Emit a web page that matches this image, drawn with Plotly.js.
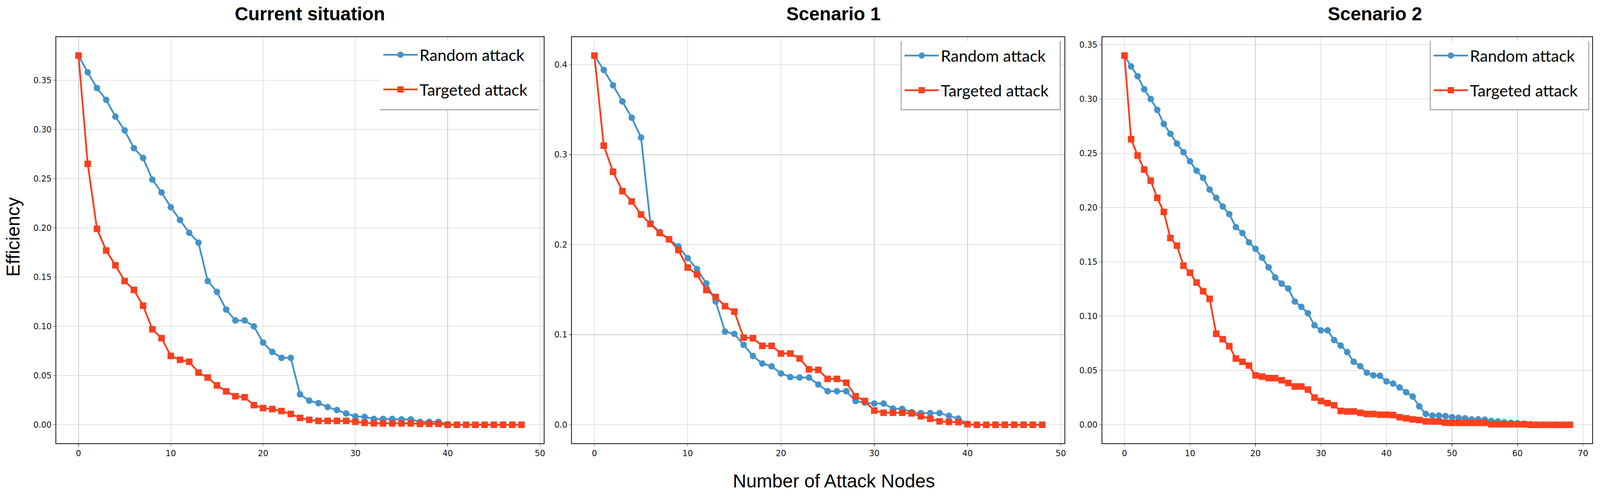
<!DOCTYPE html>
<html>
<head>
<meta charset="utf-8">
<title>Efficiency under attack</title>
<script src="https://cdn.plot.ly/plotly-3.0.1.min.js"></script>
<style>
  html, body { margin: 0; padding: 0; background: #fff; overflow: hidden; }
  #chart { width: 100vw; height: 100vh; }
</style>
</head>
<body>
<div id="chart"></div>
<script>
'use strict';

/* ============================================================
   DATA – efficiency after removing n nodes
   ============================================================ */
var panelTitles = ['Current situation', 'Scenario 1', 'Scenario 2'];
var seriesNames = ['Random attack', 'Targeted attack'];

var curRandom = [0.375, 0.358, 0.342, 0.330, 0.313, 0.299, 0.281, 0.271, 0.249, 0.236,
  0.221, 0.208, 0.195, 0.185, 0.146, 0.135, 0.117, 0.106, 0.106, 0.100,
  0.0835, 0.074, 0.068, 0.068, 0.031, 0.0245, 0.022, 0.018, 0.015, 0.0115,
  0.0085, 0.008, 0.006, 0.006, 0.006, 0.0055, 0.0055, 0.003, 0.003, 0.003,
  0.0006, 0, 0, 0, 0, 0, 0, 0, 0];
var curTargeted = [0.375, 0.265, 0.199, 0.177, 0.162, 0.146, 0.137, 0.121, 0.097, 0.088,
  0.070, 0.066, 0.064, 0.053, 0.048, 0.040, 0.034, 0.029, 0.028, 0.020,
  0.017, 0.016, 0.014, 0.011, 0.007, 0.005, 0.004, 0.004, 0.004, 0.004,
  0.003, 0.002, 0.0015, 0.0015, 0.0015, 0.0015, 0.0015, 0.001, 0.001, 0.001,
  0, 0, 0, 0, 0, 0, 0, 0, 0];

var s1Random = [0.410, 0.394, 0.377, 0.359, 0.341, 0.319, 0.224, 0.214, 0.206, 0.198,
  0.185, 0.173, 0.157, 0.137, 0.1035, 0.101, 0.0887, 0.0764, 0.068, 0.065,
  0.057, 0.053, 0.0525, 0.0525, 0.0447, 0.0373, 0.0373, 0.0373, 0.0264, 0.0246,
  0.0236, 0.0236, 0.018, 0.0176, 0.014, 0.013, 0.013, 0.013, 0.010, 0.007,
  0.001, 0, 0, 0, 0, 0, 0, 0, 0];
var s1Targeted = [0.410, 0.310, 0.281, 0.2595, 0.248, 0.2335, 0.223, 0.213, 0.206, 0.194,
  0.1746, 0.167, 0.1496, 0.142, 0.1317, 0.1257, 0.0968, 0.0961, 0.0877, 0.0877,
  0.0792, 0.0792, 0.0736, 0.0616, 0.061, 0.051, 0.051, 0.0468, 0.0317, 0.0264,
  0.0158, 0.0134, 0.0134, 0.0134, 0.0127, 0.0095, 0.0067, 0.0039, 0.0032, 0.003,
  0.0007, 0, 0, 0, 0, 0, 0, 0, 0];

var s2Random = [0.340, 0.330, 0.321, 0.309, 0.300, 0.290, 0.277, 0.268, 0.259, 0.251,
  0.2426, 0.234, 0.2274, 0.2166, 0.209, 0.201, 0.194, 0.182, 0.1766, 0.168,
  0.162, 0.154, 0.145, 0.1357, 0.130, 0.1255, 0.1135, 0.1086, 0.1027, 0.0917,
  0.087, 0.087, 0.078, 0.073, 0.067, 0.058, 0.054, 0.048, 0.0455, 0.0452,
  0.040, 0.038, 0.0344, 0.030, 0.026, 0.017, 0.010, 0.0085, 0.0085, 0.008,
  0.007, 0.0064, 0.006, 0.005, 0.005, 0.0047, 0.0035, 0.003, 0.0023, 0.0018,
  0.0015, 0.001, 0.0005, 0, 0, 0, 0, 0, 0];
var s2Targeted = [0.340, 0.263, 0.248, 0.235, 0.2248, 0.209, 0.196, 0.172, 0.165, 0.1465,
  0.140, 0.131, 0.123, 0.116, 0.0838, 0.0788, 0.0724, 0.061, 0.058, 0.0546,
  0.0455, 0.0444, 0.043, 0.043, 0.041, 0.0385, 0.0353, 0.0353, 0.0324, 0.0251,
  0.0219, 0.020, 0.018, 0.0128, 0.0123, 0.0123, 0.011, 0.010, 0.010, 0.0093,
  0.0093, 0.009, 0.007, 0.006, 0.005, 0.0044, 0.0032, 0.003, 0.003, 0.002,
  0.0018, 0.0018, 0.0018, 0.0018, 0.0018, 0.0018, 0.0005, 0.0005, 0.0005, 0.0005,
  0.0005, 0.0005, 0, 0, 0, 0, 0, 0, 0];

var yTickFormats = ['.2f', '.1f', '.2f'];
var yTickSteps   = [0.05, 0.1, 0.05];

/* ============================================================
   STYLE / GEOMETRY
   positions are given in the 4288 x 1270 reference frame and
   scaled to whatever viewport the page actually gets
   ============================================================ */
var W = 4288, H = 1270;
var VW = window.innerWidth || W, VH = window.innerHeight || H;
var S = VW / W;                       // css px per reference px

var BLUE = '#4393C9', RED = '#FA3F1E';
var TICK_FONT  = { family: 'DejaVu Sans', size: 22 * S, color: '#111' };
var LABEL_FONT = { family: 'Liberation Sans, Arial, sans-serif', size: 50 * S, color: '#000' };
var LEG_FONT   = { family: 'Lato, Open Sans, sans-serif', size: 43 * S, color: '#000' };

function px(x) { return x / W; }
function py(y) { return 1 - y / H; }

// plot boxes [left, right] ; all share top/bottom
var panelX   = [[151, 1457], [1533, 2853], [2954, 4267]];
var plotTop  = 95, plotBottom = 1135;
var titleX   = [831, 2234, 3685];
// legend frames [left, right, top, bottom]
var legendBox = [[1018, 1444, 103, 281], [2415, 2841, 105, 281], [3833, 4258, 105, 281]];

/* ============================================================
   HELPERS
   ============================================================ */
function padRange(lo, hi) {
  var m = (hi - lo) * 0.05;          // matplotlib-like 5 % margins
  return [lo - m, hi + m];
}

function nodeIndex(vals) {
  return vals.map(function (_, i) { return i; });
}

function axisBase() {
  return {
    showline: true, mirror: true, linecolor: '#111', linewidth: 2.2 * S,
    showgrid: true, gridcolor: '#cacaca', gridwidth: 1.5 * S,
    zeroline: false,
    ticks: 'outside', ticklen: 6 * S, tickwidth: 1.5 * S, tickcolor: '#555',
    tickfont: TICK_FONT, ticklabelstandoff: 4 * S, fixedrange: true
  };
}

/* ============================================================
   BUILD FIGURE
   ============================================================ */
var panels = [
  [curRandom, curTargeted],
  [s1Random, s1Targeted],
  [s2Random, s2Targeted]
];

var traces = [], layout = {
  width: VW, height: VH,
  margin: { t: 0, r: 0, b: 0, l: 0 },
  paper_bgcolor: '#fff', plot_bgcolor: '#fff',
  showlegend: true,
  annotations: [], shapes: []
};

panels.forEach(function (series, p) {
  var sfx   = p === 0 ? '' : String(p + 1);
  var xName = 'x' + sfx, yName = 'y' + sfx;
  var legName = 'legend' + sfx;
  var n = series[0].length - 1;
  var yMax = Math.max.apply(null, series[0].concat(series[1]));

  var xa = axisBase();
  xa.domain = [px(panelX[p][0]), px(panelX[p][1])];
  xa.anchor = yName;
  xa.range = padRange(0, n);
  xa.tick0 = 0; xa.dtick = 10;
  layout['xaxis' + sfx] = xa;

  var ya = axisBase();
  ya.domain = [py(plotBottom), py(plotTop)];
  ya.anchor = xName;
  ya.range = padRange(0, yMax);
  ya.tick0 = 0; ya.dtick = yTickSteps[p];
  ya.tickformat = yTickFormats[p];
  layout['yaxis' + sfx] = ya;

  [BLUE, RED].forEach(function (color, s) {
    traces.push({
      x: nodeIndex(series[s]), y: series[s],
      xaxis: xName, yaxis: yName,
      name: seriesNames[s],
      type: 'scatter', mode: 'lines+markers',
      line: { color: color, width: 4.8 * S },
      marker: { color: color, size: 17.5 * S, symbol: s === 0 ? 'circle' : 'square' },
      legend: legName, legendgroup: 'g' + p + s,
      hoverinfo: 'skip'
    });
  });

  /* legend frame (white box, grey edges) */
  var b = legendBox[p];
  layout.shapes.push({
    type: 'rect', xref: 'paper', yref: 'paper', layer: 'above',
    x0: px(b[0]), x1: px(b[1]), y0: py(b[3]), y1: py(b[2]),
    fillcolor: '#fff', line: { width: 0 }
  });
  layout.shapes.push({
    type: 'path', xref: 'paper', yref: 'paper', layer: 'above',
    path: p === 0
      ? 'M' + px(b[0]) + ',' + py(b[3]) + 'L' + px(b[1]) + ',' + py(b[3])
      : 'M' + px(b[0]) + ',' + py(b[2]) + 'L' + px(b[0]) + ',' + py(b[3]) +
        'L' + px(b[1]) + ',' + py(b[3]) + 'L' + px(b[1]) + ',' + py(b[2]),
    line: { color: '#8c8c8c', width: 2 * S }
  });

  layout[legName] = {
    x: px(b[0] + 4), y: py(b[2] + 4), xanchor: 'left', yanchor: 'top',
    bgcolor: 'rgba(0,0,0,0)', borderwidth: 0,
    font: LEG_FONT,
    itemwidth: 92 * S, traceorder: 'grouped', tracegroupgap: 34 * S
  };

  /* panel title */
  layout.annotations.push({
    text: '<b>' + panelTitles[p] + '</b>', xref: 'paper', yref: 'paper',
    x: px(titleX[p]), y: py(36), xanchor: 'center', yanchor: 'middle',
    showarrow: false, font: LABEL_FONT
  });
});

/* shared axis labels */
layout.annotations.push({
  text: 'Efficiency', xref: 'paper', yref: 'paper',
  x: px(36), y: py(606), xanchor: 'center', yanchor: 'middle',
  textangle: -90, showarrow: false, font: LABEL_FONT
});
layout.annotations.push({
  text: 'Number of Attack Nodes', xref: 'paper', yref: 'paper',
  x: px(2235), y: py(1231), xanchor: 'center', yanchor: 'middle',
  showarrow: false, font: LABEL_FONT
});

Plotly.newPlot('chart', traces, layout, { displayModeBar: false, staticPlot: true });
</script>
</body>
</html>
